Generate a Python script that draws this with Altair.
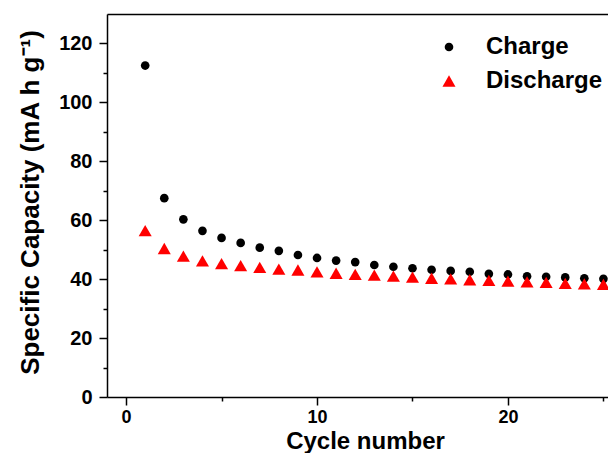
import altair as alt
import pandas as pd

# ---- data ----
cycles = list(range(1, 26))
charge = [112.5, 67.5, 60.3, 56.4, 54.0, 52.3, 50.7, 49.6, 48.2, 47.2, 46.3, 45.8, 44.8,
          44.2, 43.7, 43.2, 42.8, 42.5, 41.8, 41.6, 41.0, 40.8, 40.6, 40.3, 40.1]
discharge = [56.5, 50.4, 47.8, 46.2, 45.3, 44.6, 44.0, 43.4, 43.1, 42.5, 42.0, 41.6, 41.4,
             41.0, 40.7, 40.3, 40.1, 39.8, 39.6, 39.3, 39.1, 38.9, 38.6, 38.4, 38.2]
series_names = ["Charge", "Discharge"]
series_colors = ["black", "red"]
series_shapes = ["circle", "triangle-up"]
series_sizes = [75, 170]
x_major = [0, 10, 20]
x_minor = [5, 15, 25]
y_major = [0, 20, 40, 60, 80, 100, 120]
y_minor = [10, 30, 50, 70, 90, 110]

rows = []
for name, vals in zip(series_names, [charge, discharge]):
    for c, v in zip(cycles, vals):
        rows.append({"cycle": c, "capacity": v, "series": name})
df = pd.DataFrame(rows)

FONT = "Liberation Sans"
x_scale = alt.Scale(domain=[-1, 25.24], nice=False, zero=False)
y_scale = alt.Scale(domain=[0, 130], nice=False, zero=False)

legend = alt.Legend(
    title="", orient="none", legendX=330, legendY=21, labelFontSize=24,
    labelFontWeight="bold", labelFont=FONT, symbolSize=100, labelOffset=25,
    rowPadding=10, padding=0, symbolStrokeWidth=0, labelColor="black",
)

points = alt.Chart(df).mark_point(filled=True, opacity=1, strokeWidth=0).encode(
    x=alt.X("cycle:Q", scale=x_scale, axis=alt.Axis(
        orient="bottom", values=x_major, tickSize=8, labelFontSize=18,
        labelFontWeight="bold", labelPadding=3, title="Cycle number",
        titleFontSize=24, titleFontWeight="bold", titleX=258, titleY=51,
        titleAlign="center", titleBaseline="alphabetic")),
    y=alt.Y("capacity:Q", scale=y_scale, axis=alt.Axis(
        orient="left", values=y_major, tickSize=8, labelFontSize=20,
        labelFontWeight="bold", labelPadding=7,
        title="Specific Capacity (mA h g\u207b\u00b9)", titleFontSize=26,
        titleFontWeight="bold", titleX=-64, titleY=188, titleAngle=270,
        titleAlign="center", titleBaseline="bottom")),
    color=alt.Color("series:N", scale=alt.Scale(domain=series_names, range=series_colors), legend=legend),
    shape=alt.Shape("series:N", scale=alt.Scale(domain=series_names, range=series_shapes), legend=legend),
    size=alt.Size("series:N", scale=alt.Scale(domain=series_names, range=series_sizes), legend=None),
)

minor = alt.Chart(df).mark_point(opacity=0).encode(
    x=alt.X("cycle:Q", scale=x_scale, axis=alt.Axis(
        orient="bottom", values=x_minor, tickSize=4, labels=False, domain=False, title="")),
    y=alt.Y("capacity:Q", scale=y_scale, axis=alt.Axis(
        orient="left", values=y_minor, tickSize=4, labels=False, domain=False, title="")),
)

top = alt.Chart(df).mark_point(opacity=0).encode(
    x=alt.X("cycle:Q", scale=x_scale, axis=alt.Axis(
        orient="top", ticks=False, labels=False, domain=True, title="")),
    y=alt.Y("capacity:Q", scale=y_scale, axis=None),
)

chart = alt.layer(points, minor, top).resolve_axis(
    x="independent", y="independent"
).properties(
    width=501, height=383,
    autosize=alt.AutoSizeParams(type="none"),
    padding={"left": 99, "top": 6, "right": 0, "bottom": 56},
).configure_axis(
    domainColor="black", tickColor="black", labelColor="black", titleColor="black",
    labelFont=FONT, titleFont=FONT, domainWidth=1.5, tickWidth=1.5, grid=False,
).configure_view(stroke=None)

chart.save("out.html", embed_options={"renderer": "svg", "actions": False})
